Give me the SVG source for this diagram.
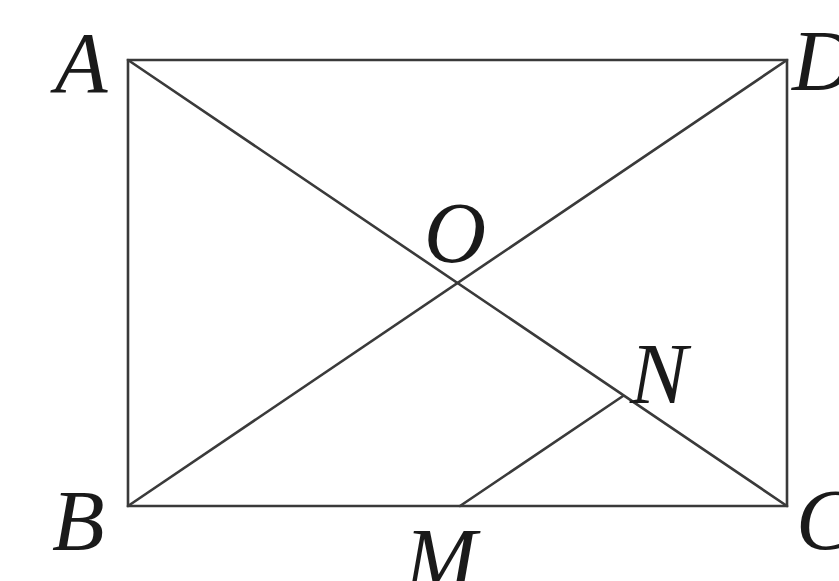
<svg xmlns="http://www.w3.org/2000/svg" width="839" height="581" viewBox="0 0 839 581">
<style>
.ln{stroke:#3a3a3a;stroke-width:2.6;fill:none;stroke-linecap:round}
.lb{font-family:"Liberation Serif","Times New Roman",serif;font-style:italic;font-size:86px;fill:#1a1a1a}
</style>
<rect width="839" height="581" fill="#ffffff"/>
<g id="connectors">
<polygon class="ln" points="128,60 787,60 787,506 128,506"/>
<line class="ln" x1="128" y1="60" x2="787" y2="506"/>
<line class="ln" x1="128" y1="506" x2="787" y2="60"/>
<line class="ln" x1="460" y1="506" x2="623" y2="396"/>
</g>
<g id="A"><text class="lb" x="55" y="92">A</text></g>
<g id="D"><text class="lb" x="792" y="90">D</text></g>
<g id="B"><text class="lb" x="52" y="550">B</text></g>
<g id="C"><text class="lb" x="796" y="549">C</text></g>
<g id="O"><text class="lb" x="424" y="262">O</text></g>
<g id="N"><text class="lb" x="630" y="403">N</text></g>
<g id="M"><text class="lb" x="405" y="588">M</text></g>
</svg>
